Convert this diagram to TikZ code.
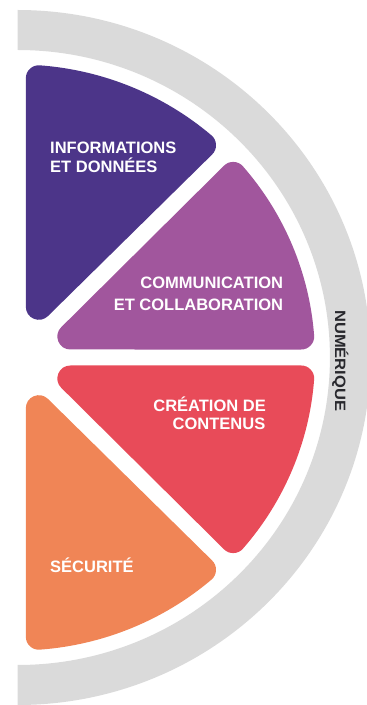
\documentclass[tikz,border=0pt]{standalone}
\usepackage{fontspec}
\setmainfont{Liberation Sans}
\newfontfamily\numfont[FakeStretch=1.1]{Liberation Sans}
\definecolor{infocol}{RGB}{76,53,137}
\definecolor{comcol}{RGB}{161,86,157}
\definecolor{creacol}{RGB}{232,75,89}
\definecolor{seccol}{RGB}{240,133,86}
\definecolor{ringgray}{RGB}{218,218,218}
\definecolor{numgray}{RGB}{40,40,45}
\tikzset{
  sectorfill/.style={fill=#1, draw=#1, line width=26pt, line join=round},
  lbl/.style={inner sep=0pt, text=white, font=\fontsize{16.5}{18}\selectfont\bfseries},
}
\begin{document}
\begin{tikzpicture}[x=1pt,y=1pt]
\useasboundingbox (0,0) rectangle (367,705);
\begin{scope}[shift={(17.5,347.5)}, xscale=1.016]
  \fill[ringgray] (0,347.5) arc[start angle=90,end angle=-90,radius=347.5]
     -- (0,-307.5) arc[start angle=-90,end angle=90,radius=307.5] -- cycle;
  \path[sectorfill=infocol] (21,50.7) -- (85.7:280) arc[start angle=85.7,end angle=49.3,radius=280] -- cycle;
  \path[sectorfill=comcol] (52,21) -- (40.7:280) arc[start angle=40.7,end angle=4.3,radius=280] -- cycle;
  \path[sectorfill=creacol] (52,-21) -- (-4.3:280) arc[start angle=-4.3,end angle=-40.7,radius=280] -- cycle;
  \path[sectorfill=seccol] (21,-50.7) -- (-49.3:280) arc[start angle=-49.3,end angle=-85.7,radius=280] -- cycle;
\end{scope}
\node[lbl, anchor=base west] (info1) at (50,551) {INFORMATIONS};
\node[lbl, anchor=base west] (info2) at (50,532.3) {ET DONNÉES};
\node[lbl, anchor=base east] (com1) at (283.3,416) {COMMUNICATION};
\node[lbl, anchor=base east] (com2) at (283.3,394.3) {ET COLLABORATION};
\node[lbl, anchor=base east] (crea1) at (266,293.3) {CRÉATION DE};
\node[lbl, anchor=base east] (crea2) at (265.5,275) {CONTENUS};
\node[lbl, anchor=base west] (sec) at (50,132.3) {SÉCURITÉ};
\node[inner sep=0pt, anchor=base, rotate=-90, text=numgray, font=\numfont\bfseries\fontsize{15}{18}\selectfont] (num) at (335,344.2) {NUMÉRIQUE};
\end{tikzpicture}
\end{document}
